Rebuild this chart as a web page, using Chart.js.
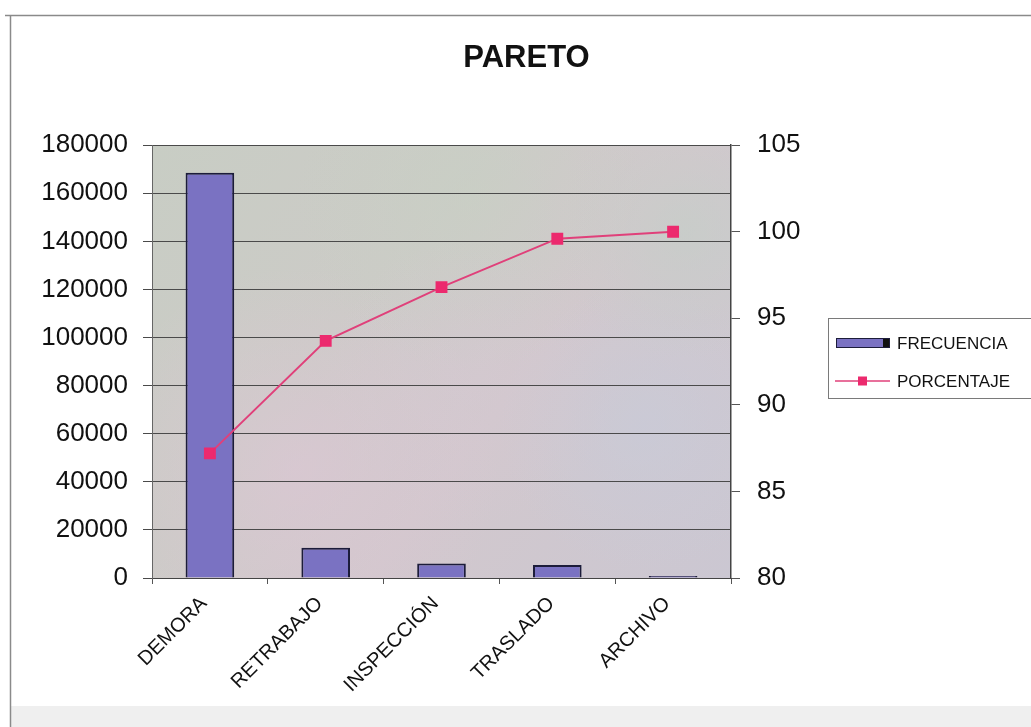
<!DOCTYPE html>
<html>
<head>
<meta charset="utf-8">
<script src="https://cdn.jsdelivr.net/npm/chart.js@4/dist/chart.umd.min.js"></script>
<style>
  html, body { margin: 0; padding: 0; background: #ffffff; }
  #wrap { width: 1031px; height: 727px; position: relative; }
</style>
</head>
<body>
<div id="wrap"><canvas id="c" width="1031" height="727"></canvas></div>
<script>
// Categories and series
const categories = ['DEMORA', 'RETRABAJO', 'INSPECCIÓN', 'TRASLADO', 'ARCHIVO'];
const frecuencia = [168500, 12600, 6000, 5400, 800];
const porcentaje = [87.2, 93.7, 96.8, 99.6, 100];
const leftTicks = [0, 20000, 40000, 60000, 80000, 100000, 120000, 140000, 160000, 180000];
const rightTicks = [80, 85, 90, 95, 100, 105];

const FONT = '"Liberation Sans", Arial, sans-serif';

// Page frame, bottom strip and the mottled plot-area fill
const backdrop = {
  id: 'backdrop',
  beforeDraw(chart) {
    const { ctx, chartArea: a, width, height } = chart;
    ctx.save();
    ctx.fillStyle = '#ffffff';
    ctx.fillRect(0, 0, width, height);
    ctx.fillStyle = '#efefef';
    ctx.fillRect(11, 706, width - 11, height - 706);
    ctx.strokeStyle = '#8a8a8a';
    ctx.lineWidth = 1.5;
    ctx.beginPath();
    ctx.moveTo(10.5, 15); ctx.lineTo(10.5, height);
    ctx.moveTo(5, 15.5); ctx.lineTo(width, 15.5);
    ctx.stroke();

    const w = a.right - a.left, h = a.bottom - a.top;
    const g = ctx.createLinearGradient(a.left, a.top, a.right, a.bottom);
    g.addColorStop(0, '#c8cdc4');
    g.addColorStop(0.35, '#cccbc7');
    g.addColorStop(0.6, '#d2c8cd');
    g.addColorStop(1, '#cbc7d2');
    ctx.fillStyle = g;
    ctx.fillRect(a.left, a.top, w, h);
    const blobs = [
      [0.25, 0.75, 0.35, [222, 198, 214], 0.6],
      [0.85, 0.65, 0.25, [198, 204, 220], 0.5],
      [0.55, 0.12, 0.3, [198, 210, 194], 0.5],
      [0.92, 0.2, 0.22, [194, 208, 198], 0.55],
      [0.55, 0.55, 0.25, [214, 200, 212], 0.4]
    ];
    blobs.forEach(([fx, fy, fr, c, al]) => {
      const cx = a.left + fx * w, cy = a.top + fy * h, r = fr * w;
      const rg = ctx.createRadialGradient(cx, cy, 0, cx, cy, r);
      rg.addColorStop(0, `rgba(${c[0]},${c[1]},${c[2]},${al})`);
      rg.addColorStop(1, `rgba(${c[0]},${c[1]},${c[2]},0)`);
      ctx.fillStyle = rg;
      ctx.fillRect(a.left, a.top, w, h);
    });
    ctx.restore();
  }
};

// Boxed legend to the right of the plot
const boxLegend = {
  id: 'boxLegend',
  afterDraw(chart) {
    const { ctx } = chart;
    const bars = chart.data.datasets.find(d => d.type === 'bar');
    const line = chart.data.datasets.find(d => d.type === 'line');
    const x0 = 828, y0 = 318, bw = 210, bh = 80;
    ctx.save();
    ctx.fillStyle = '#ffffff';
    ctx.fillRect(x0, y0, bw, bh);
    ctx.strokeStyle = '#7a7a7a';
    ctx.lineWidth = 1;
    ctx.strokeRect(x0 + 0.5, y0 + 0.5, bw, bh);
    ctx.font = '17px ' + FONT;
    ctx.textBaseline = 'middle';
    ctx.textAlign = 'left';
    // bar entry
    let y = 343;
    ctx.fillStyle = bars.backgroundColor;
    ctx.fillRect(836, y - 5, 48, 10);
    ctx.fillStyle = '#111';
    ctx.fillRect(883, y - 5, 7, 10);
    ctx.strokeStyle = bars.borderColor;
    ctx.lineWidth = 1;
    ctx.strokeRect(836.5, y - 4.5, 53, 9);
    ctx.fillStyle = '#111';
    ctx.fillText(bars.label, 897, y + 1);
    // line entry
    y = 381;
    ctx.strokeStyle = line.borderColor;
    ctx.lineWidth = 1.5;
    ctx.beginPath();
    ctx.moveTo(835, y); ctx.lineTo(890, y);
    ctx.stroke();
    ctx.fillStyle = line.pointBackgroundColor;
    ctx.fillRect(858, y - 4.5, 9, 9);
    ctx.fillStyle = '#111';
    ctx.fillText(line.label, 897, y + 1);
    ctx.restore();
  }
};

new Chart(document.getElementById('c'), {
  data: {
    labels: categories,
    datasets: [
      {
        type: 'line',
        label: 'PORCENTAJE',
        data: porcentaje,
        yAxisID: 'y1',
        borderColor: '#e0407a',
        borderWidth: 2,
        pointStyle: 'rect',
        pointRadius: 7,
        pointBackgroundColor: '#ec2a6e',
        pointBorderColor: '#ec2a6e',
        tension: 0,
        order: 0
      },
      {
        type: 'bar',
        label: 'FRECUENCIA',
        data: frecuencia,
        yAxisID: 'y',
        backgroundColor: '#7a72c2',
        borderColor: '#1c1c3a',
        borderWidth: 2,
        borderSkipped: 'bottom',
        categoryPercentage: 1,
        barPercentage: 0.42,
        order: 1
      }
    ]
  },
  options: {
    responsive: false,
    animation: false,
    devicePixelRatio: 1,
    layout: { padding: { left: 22, right: 0, top: 0, bottom: 0 } },
    plugins: {
      legend: { display: false },
      tooltip: { enabled: false },
      title: {
        display: true,
        text: 'PARETO',
        color: '#111',
        font: { family: FONT, size: 31, weight: 'bold', lineHeight: 1.2 },
        padding: { top: 40, bottom: 68 }
      }
    },
    scales: {
      x: {
        offset: true,
        grid: { display: true, drawOnChartArea: false, offset: true, tickLength: 6, color: '#555' },
        border: { display: true, color: '#444', width: 1 },
        ticks: {
          color: '#111',
          font: { family: FONT, size: 20 },
          minRotation: 45,
          maxRotation: 45,
          padding: 8,
          labelOffset: -6,
          autoSkip: false
        },
        afterFit(s) { s.height = 149; }
      },
      y: {
        position: 'left',
        min: 0,
        max: 180000,
        afterBuildTicks(s) { s.ticks = leftTicks.map(v => ({ value: v })); },
        grid: { color: '#4a4a4a', lineWidth: 1, tickLength: 9 },
        border: { display: true, color: '#666', width: 1 },
        ticks: { color: '#111', font: { family: FONT, size: 26 }, padding: 15, callback: v => String(v) },
        afterFit(s) { s.width = 130; }
      },
      y1: {
        position: 'right',
        min: 80,
        max: 105,
        afterBuildTicks(s) { s.ticks = rightTicks.map(v => ({ value: v })); },
        grid: { drawOnChartArea: false, tickLength: 9, color: '#555' },
        border: { display: true, color: '#444', width: 1.5 },
        ticks: { color: '#111', font: { family: FONT, size: 26 }, padding: 17, callback: v => String(v) },
        afterFit(s) { s.width = 300; }
      }
    }
  },
  plugins: [backdrop, boxLegend]
});
</script>
</body>
</html>
